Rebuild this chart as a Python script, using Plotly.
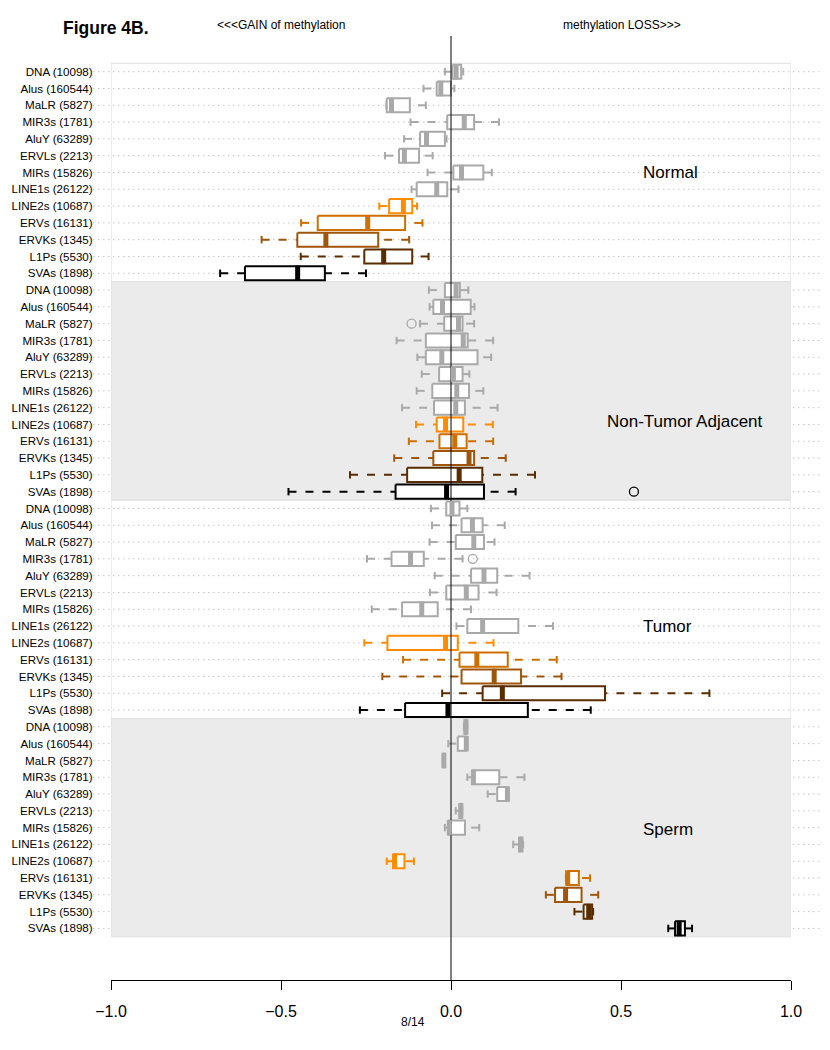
import plotly.graph_objects as go

categories = ["DNA (10098)", "Alus (160544)", "MaLR (5827)", "MIR3s (1781)", "AluY (63289)",
              "ERVLs (2213)", "MIRs (15826)", "LINE1s (26122)", "LINE2s (10687)", "ERVs (16131)",
              "ERVKs (1345)", "L1Ps (5530)", "SVAs (1898)"]
group_names = ["Normal", "Non-Tumor Adjacent", "Tumor", "Sperm"]
cat_colors = ["#A9A9A9"] * 8 + ["#FF8C00", "#CD7000", "#A0560A", "#5A2D00", "#000000"]

# Normal
normal_low = [-0.018, -0.081, -0.190, -0.119, -0.138, -0.194, -0.069, -0.116, -0.211, -0.441, -0.557, -0.442, -0.679]
normal_q1  = [0.004, -0.042, -0.189, -0.011, -0.091, -0.153, 0.007, -0.101, -0.182, -0.392, -0.452, -0.255, -0.606]
normal_med = [0.015, -0.030, -0.175, 0.039, -0.072, -0.137, 0.031, -0.042, -0.140, -0.245, -0.368, -0.198, -0.451]
normal_q3  = [0.030, 0.000, -0.121, 0.068, -0.018, -0.094, 0.095, -0.011, -0.114, -0.135, -0.214, -0.114, -0.371]
normal_up  = [0.036, 0.010, -0.074, 0.141, -0.013, -0.054, 0.120, 0.022, -0.100, -0.084, -0.123, -0.066, -0.250]
normal_out = [[], [], [], [], [], [], [], [], [], [], [], [], []]

# Non-Tumor Adjacent
nta_low = [-0.065, -0.063, -0.091, -0.160, -0.099, -0.086, -0.101, -0.144, -0.103, -0.124, -0.167, -0.297, -0.478]
nta_q1  = [-0.018, -0.052, -0.020, -0.074, -0.074, -0.035, -0.055, -0.050, -0.042, -0.034, -0.052, -0.129, -0.163]
nta_med = [0.015, -0.025, 0.022, 0.036, -0.027, 0.007, 0.017, 0.014, -0.016, 0.011, 0.053, 0.024, -0.013]
nta_q3  = [0.026, 0.058, 0.034, 0.049, 0.078, 0.034, 0.053, 0.041, 0.036, 0.046, 0.068, 0.092, 0.097]
nta_up  = [0.051, 0.069, 0.068, 0.124, 0.118, 0.054, 0.095, 0.137, 0.123, 0.124, 0.161, 0.247, 0.190]
nta_out = [[], [], [-0.116], [], [], [], [], [], [], [], [], [], [0.538]]

# Tumor
tumor_low = [-0.059, -0.056, -0.063, -0.247, -0.048, -0.062, -0.233, 0.016, -0.255, -0.141, -0.202, -0.026, -0.268]
tumor_q1  = [-0.014, 0.031, 0.014, -0.175, 0.059, -0.014, -0.144, 0.048, -0.187, 0.025, 0.031, 0.093, -0.135]
tumor_med = [0.003, 0.063, 0.067, -0.119, 0.097, 0.045, -0.086, 0.093, -0.016, 0.076, 0.127, 0.151, -0.009]
tumor_q3  = [0.025, 0.093, 0.097, -0.080, 0.136, 0.081, -0.039, 0.198, 0.020, 0.167, 0.206, 0.453, 0.226]
tumor_up  = [0.048, 0.158, 0.128, 0.034, 0.231, 0.134, 0.059, 0.300, 0.125, 0.311, 0.325, 0.760, 0.411]
tumor_out = [[], [], [], [0.064], [], [], [], [], [], [], [], [], []]

# Sperm
sperm_low = [0.038, -0.008, -0.024, 0.048, 0.108, 0.014, -0.018, 0.183, -0.189, 0.338, 0.279, 0.363, 0.639]
sperm_q1  = [0.040, 0.020, -0.022, 0.062, 0.136, 0.025, -0.008, 0.200, -0.170, 0.343, 0.306, 0.390, 0.659]
sperm_med = [0.044, 0.045, -0.021, 0.066, 0.166, 0.029, -0.005, 0.205, -0.166, 0.343, 0.337, 0.405, 0.671]
sperm_q3  = [0.046, 0.045, -0.020, 0.142, 0.166, 0.031, 0.041, 0.210, -0.137, 0.376, 0.384, 0.415, 0.688]
sperm_up  = [0.048, 0.047, -0.018, 0.216, 0.168, 0.033, 0.083, 0.212, -0.109, 0.409, 0.433, 0.418, 0.709]
sperm_out = [[], [], [], [], [], [], [], [], [], [], [], [], []]

x_ticks = [-1.0, -0.5, 0.0, 0.5, 1.0]
x_ticktext = ["\u22121.0", "\u22120.5", "0.0", "0.5", "1.0"]

groups = [
    (normal_low, normal_q1, normal_med, normal_q3, normal_up, normal_out),
    (nta_low, nta_q1, nta_med, nta_q3, nta_up, nta_out),
    (tumor_low, tumor_q1, tumor_med, tumor_q3, tumor_up, tumor_out),
    (sperm_low, sperm_q1, sperm_med, sperm_q3, sperm_up, sperm_out),
]

n_cat = len(categories)
n_rows = n_cat * len(groups)
BOX_H = 0.42
CAP_H = 0.22
MED_H = 0.46
Y_TOP = -2.125
Y_BOT = 54.07
FONT = "Liberation Sans, Arial, Helvetica, sans-serif"

fig = go.Figure()

# background bands / frames
shapes = []
for g in range(len(groups)):
    y0 = g * n_cat - 0.5
    y1 = (g + 1) * n_cat - 0.5
    shapes.append(dict(type="rect", xref="x", yref="y", x0=-1, x1=1, y0=y0, y1=y1,
                       fillcolor="#EBEBEB" if g % 2 == 1 else "rgba(0,0,0,0)",
                       line=dict(color="#E0E0E0", width=1), layer="below"))
# dotted row guides
for r in range(n_rows):
    shapes.append(dict(type="line", xref="paper", yref="y", x0=-0.026, x1=1.06, y0=r, y1=r,
                       line=dict(color="#A8A8A8", width=1, dash="1px,4px"), layer="below"))

# build per-colour paths
traces_box, traces_wh, traces_cap, traces_med, traces_out = {}, {}, {}, {}, {}
for i, col in enumerate(cat_colors):
    bx, by, wx, wy, cx, cy, mx, my, ox, oy = [], [], [], [], [], [], [], [], [], []
    for g, (lo, q1, md, q3, up, out) in enumerate(groups):
        r = g * n_cat + i
        bx += [q1[i], q3[i], q3[i], q1[i], q1[i], None]
        by += [r - BOX_H, r - BOX_H, r + BOX_H, r + BOX_H, r - BOX_H, None]
        wx += [lo[i], q1[i], None, up[i], q3[i], None]
        wy += [r, r, None, r, r, None]
        cx += [lo[i], lo[i], None, up[i], up[i], None]
        cy += [r - CAP_H, r + CAP_H, None, r - CAP_H, r + CAP_H, None]
        mx += [md[i], md[i], None]
        my += [r - MED_H, r + MED_H, None]
        for o in out[i]:
            ox.append(o)
            oy.append(r)
    traces_box[i] = (bx, by, col)
    traces_wh[i] = (wx, wy, col)
    traces_cap[i] = (cx, cy, col)
    traces_med[i] = (mx, my, col)
    traces_out[i] = (ox, oy, col)

for i in range(n_cat):
    wx, wy, col = traces_wh[i]
    fig.add_trace(go.Scatter(x=wx, y=wy, mode="lines", line=dict(color=col, width=2, dash="8px,9px"),
                             hoverinfo="skip", showlegend=False))
    cx, cy, col = traces_cap[i]
    fig.add_trace(go.Scatter(x=cx, y=cy, mode="lines", line=dict(color=col, width=2),
                             hoverinfo="skip", showlegend=False))
for i in range(n_cat):
    bx, by, col = traces_box[i]
    fig.add_trace(go.Scatter(x=bx, y=by, mode="lines", fill="toself", fillcolor="white",
                             line=dict(color=col, width=2), hoverinfo="skip", showlegend=False))

# zero line
fig.add_trace(go.Scatter(x=[0, 0], y=[Y_TOP, Y_BOT], mode="lines", line=dict(color="black", width=1),
                         hoverinfo="skip", showlegend=False))

for i in range(n_cat):
    mx, my, col = traces_med[i]
    fig.add_trace(go.Scatter(x=mx, y=my, mode="lines", line=dict(color=col, width=5),
                             hoverinfo="skip", showlegend=False))
    ox, oy, col = traces_out[i]
    if ox:
        fig.add_trace(go.Scatter(x=ox, y=oy, mode="markers",
                                 marker=dict(symbol="circle-open", size=9, color=col, line=dict(width=1.3)),
                                 hoverinfo="skip", showlegend=False))

annotations = [
    dict(text="<b>Figure 4B.</b>", xref="paper", yref="paper", x=-0.007, y=1.0085, xanchor="center",
         yanchor="middle", showarrow=False, font=dict(size=17.5, color="black", family=FONT)),
    dict(text="<<<GAIN of methylation", xref="paper", yref="paper", x=0.250, y=1.0117, xanchor="center",
         yanchor="middle", showarrow=False, font=dict(size=12, color="black", family=FONT)),
    dict(text="methylation LOSS>>>", xref="paper", yref="paper", x=0.751, y=1.0117, xanchor="center",
         yanchor="middle", showarrow=False, font=dict(size=12, color="black", family=FONT)),
    dict(text="8/14", xref="paper", yref="paper", x=0.444, y=-0.0445, xanchor="center",
         yanchor="middle", showarrow=False, font=dict(size=12, color="black", family=FONT)),
]
label_pos = [(0.647, 6.0), (0.688, 20.8), (0.638, 33.0), (0.638, 45.1)]
for name, (lx, ly) in zip(group_names, label_pos):
    annotations.append(dict(text=name, xref="x", yref="y", x=lx, y=ly, xanchor="center", yanchor="middle",
                            showarrow=False, font=dict(size=17, color="black", family=FONT)))

tickvals = list(range(n_rows))
ticktext = categories * len(groups)

# page body has an 8px default margin, so the figure is 8px smaller and margins shifted
fig.update_layout(
    template="none",
    width=822, height=1042,
    margin=dict(l=103, r=39, t=28, b=70, autoexpand=False),
    paper_bgcolor="white", plot_bgcolor="white",
    font=dict(family=FONT, color="black"),
    shapes=shapes, annotations=annotations,
    showlegend=False,
    xaxis=dict(range=[-1, 1], showgrid=False, zeroline=False, showline=True, linecolor="black",
               linewidth=1, ticks="outside", ticklen=9, tickcolor="black", tickwidth=1,
               tickvals=x_ticks, ticktext=x_ticktext, tickfont=dict(size=16, family=FONT),
               ticklabelstandoff=8, automargin=False),
    yaxis=dict(range=[Y_BOT, Y_TOP], showgrid=False, zeroline=False, showline=False,
               tickvals=tickvals, ticktext=ticktext, ticks="outside", ticklen=15,
               tickcolor="rgba(0,0,0,0)", tickfont=dict(size=11.6, family=FONT), automargin=False),
)

fig.write_html("out.html")
